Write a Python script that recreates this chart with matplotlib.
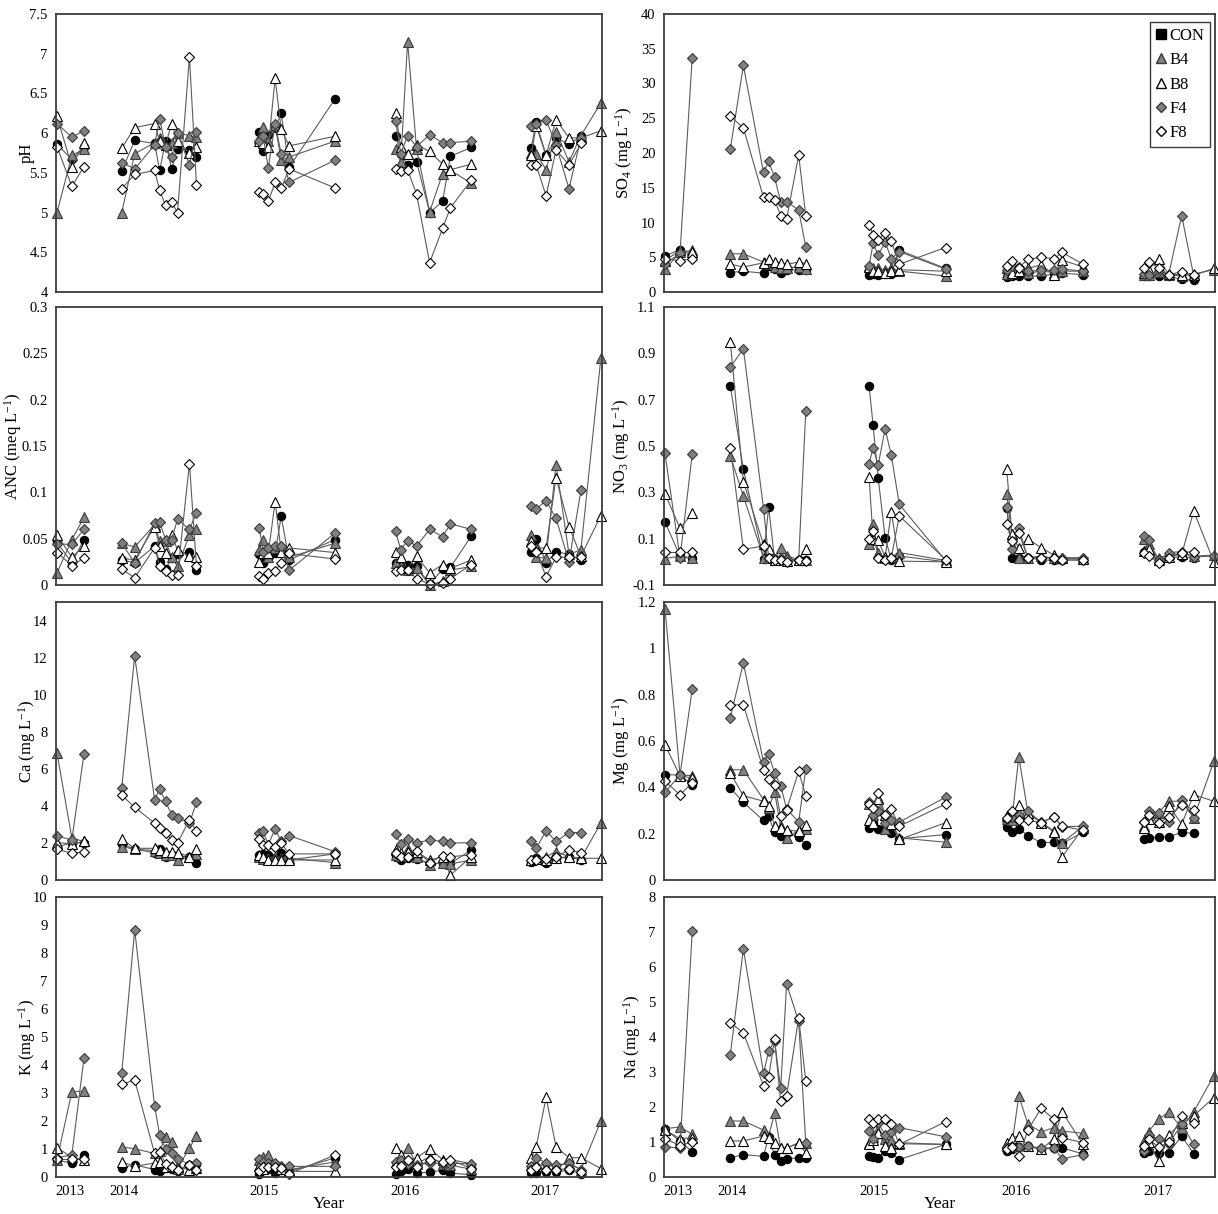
import numpy as np
import matplotlib
matplotlib.use("Agg")
import matplotlib.pyplot as plt
from matplotlib.lines import Line2D
from matplotlib.ticker import FuncFormatter

plt.rcParams["font.family"] = "Liberation Serif"
plt.rcParams["mathtext.fontset"] = "custom"
plt.rcParams["mathtext.rm"] = "Liberation Serif"
plt.rcParams["mathtext.it"] = "Liberation Serif:italic"

# sampling dates (decimal year) for each field season
d2013 = [2013.525, 2013.631, 2013.717]
d2014 = [2013.986, 2014.078, 2014.220, 2014.256, 2014.298, 2014.341, 2014.383, 2014.468, 2014.518]
d2015 = [2014.965, 2014.993, 2015.029, 2015.078, 2015.121, 2015.178, 2015.504]
d2016 = [2015.936, 2015.972, 2016.021, 2016.085, 2016.178, 2016.270, 2016.326, 2016.475]
d2017 = [2016.901, 2016.936, 2017.007, 2017.078, 2017.170, 2017.255, 2017.397]
seasons = [d2013, d2014, d2015, d2016, d2017]

year_labels = ["2013", "2014", "2015", "2016", "2017"]
year_pos = [2013.617, 2014.0, 2015.0, 2016.0, 2017.0]

treatments = ["CON", "B4", "B8", "F4", "F8"]
nan = np.nan

ph = {
    "CON": [[5.86, 5.67, 5.82], [5.52, 5.91, 5.87, 5.53, 5.90, 5.55, 5.80, 5.79, 5.70],
            [6.01, 5.77, 5.98, 6.06, 6.25, 5.57, 6.43], [5.96, 5.74, 5.60, 5.64, 5.00, 5.14, 5.71, 5.82],
            [5.81, 6.14, 5.72, 5.94, 5.86, 5.96, nan]],
    "B4": [[5.00, 5.72, 5.80], [5.00, 5.74, 5.88, 5.94, 5.85, 5.88, 6.00, 5.97, 5.95],
           [5.94, 6.08, 5.90, 6.10, 5.66, 5.70, 5.90], [5.80, 5.64, 7.15, 5.80, 5.01, 5.49, 5.53, 5.37],
           [5.75, 5.74, 5.54, 6.02, 5.64, 5.97, 6.38]],
    "B8": [[6.21, 5.58, 5.88], [5.81, 6.07, 6.12, 5.90, 5.85, 6.12, 5.90, 5.75, 5.82],
           [5.90, 5.87, 5.82, 6.69, 6.05, 5.84, 5.96], [6.25, 5.83, 5.74, 5.85, 5.77, 5.61, 5.54, 5.61],
           [5.72, 6.09, 5.72, 6.17, 5.94, 5.94, 6.03]],
    "F4": [[6.12, 5.95, 6.03], [5.63, 5.55, 5.85, 6.18, 5.82, 5.70, 6.00, 5.60, 6.02],
           [5.90, 5.96, 5.56, 6.12, 5.74, 5.38, 5.66], [6.15, 5.74, 5.97, 5.83, 5.98, 5.88, 5.88, 5.90],
           [6.09, 6.12, 6.17, 5.85, 5.30, 5.94, nan]],
    "F8": [[5.83, 5.33, 5.58], [5.30, 5.48, 5.53, 5.28, 5.09, 5.13, 5.00, 6.96, 5.35],
           [5.26, 5.23, 5.14, 5.38, 5.31, 5.55, 5.31], [5.55, 5.52, 5.54, 5.23, 4.37, 4.80, 5.06, 5.41],
           [5.60, 5.60, 5.21, 5.79, 5.60, 5.87, nan]],
}

so4 = {
    "CON": [[5.2, 6.1, 5.2], [2.8, 3.0, 2.7, 3.8, 3.3, 2.8, 3.1, 3.2, 3.1],
            [2.5, 2.6, 2.5, 2.6, 2.6, 6.0, 3.4], [2.1, 2.3, 2.3, 2.3, 2.3, 2.6, 2.7, 2.5],
            [2.3, 2.3, 2.3, 2.3, 1.8, 1.7, nan]],
    "B4": [[3.3, 5.7, 6.0], [5.5, 5.5, 4.3, 4.0, 3.6, 3.5, 3.5, 3.6, 3.3],
           [3.8, 3.5, 3.4, 3.2, 3.5, 3.0, 2.3], [2.6, 2.9, 3.2, 2.7, 3.0, 2.8, 3.0, 3.0],
           [2.5, 2.5, 2.9, 2.5, 2.3, 2.6, 3.2]],
    "B8": [[4.5, 6.0, 5.7], [4.0, 3.6, 4.2, 4.8, 4.3, 4.2, 4.0, 4.3, 4.1],
           [3.6, 3.0, 3.0, 2.8, 3.0, 3.2, 3.0], [3.5, 2.8, 3.0, 3.4, 3.9, 2.4, 4.6, 3.6],
           [2.8, 3.2, 4.8, 2.6, 2.5, 2.4, 3.4]],
    "F4": [[4.0, 5.6, 33.7], [20.6, 32.6, 17.2, 18.8, 16.5, 13.0, 13.0, 11.8, 6.5],
           [3.8, 7.0, 5.3, 7.2, 4.8, 5.8, 3.3], [3.2, 3.8, 3.6, 3.0, 3.1, 3.1, 3.3, 3.0],
           [2.6, 2.5, 3.0, 2.5, 11.0, 2.3, nan]],
    "F8": [[4.8, 4.5, 4.8], [25.3, 23.6, 13.6, 13.6, 13.3, 11.0, 10.5, 19.7, 11.0],
           [9.7, 8.2, 7.5, 8.5, 7.3, 4.0, 6.4], [3.8, 4.4, 3.5, 4.7, 5.0, 4.8, 5.7, 4.0],
           [3.5, 4.3, 3.5, 2.5, 2.9, 2.5, nan]],
}

anc = {
    "CON": [[0.046, 0.024, 0.049], [0.027, 0.024, 0.042, 0.025, 0.017, 0.029, 0.033, 0.036, 0.016],
            [0.033, 0.024, 0.029, 0.034, 0.074, 0.027, 0.049], [0.024, 0.020, 0.022, 0.020, 0.001, 0.017, 0.019, 0.053],
            [0.036, 0.050, 0.024, 0.036, 0.033, 0.027, nan]],
    "B4": [[0.013, 0.049, 0.073], [0.045, 0.041, 0.065, 0.048, 0.047, 0.030, 0.020, 0.054, 0.060],
           [0.038, 0.049, 0.030, 0.040, 0.042, 0.030, 0.045], [0.024, 0.020, 0.016, 0.018, 0.000, 0.004, 0.016, 0.020],
           [0.054, 0.030, 0.029, 0.130, 0.033, 0.038, 0.245]],
    "B8": [[0.054, 0.030, 0.042], [0.029, 0.027, 0.063, 0.042, 0.035, 0.054, 0.038, 0.031, 0.030],
           [0.025, 0.034, 0.034, 0.090, 0.036, 0.040, 0.035], [0.036, 0.030, 0.018, 0.031, 0.013, 0.022, 0.018, 0.027],
           [0.047, 0.040, 0.040, 0.116, 0.063, 0.031, 0.075]],
    "F4": [[0.044, 0.044, 0.060], [0.045, 0.024, 0.067, 0.068, 0.049, 0.049, 0.071, 0.060, 0.078],
           [0.062, 0.036, 0.040, 0.042, 0.042, 0.016, 0.056], [0.058, 0.038, 0.048, 0.042, 0.060, 0.052, 0.066, 0.060],
           [0.085, 0.082, 0.091, 0.072, 0.025, 0.102, nan]],
    "F8": [[0.035, 0.021, 0.029], [0.017, 0.008, 0.040, 0.020, 0.015, 0.011, 0.011, 0.131, 0.020],
           [0.010, 0.006, 0.013, 0.015, 0.024, 0.034, 0.028], [0.015, 0.016, 0.016, 0.007, 0.001, 0.002, 0.007, 0.022],
           [0.042, 0.036, 0.009, 0.030, 0.030, 0.030, nan]],
}

no3 = {
    "CON": [[0.172, 0.025, 0.015], [0.759, 0.399, 0.014, 0.237, 0.010, 0.010, 0.010, 0.006, 0.006],
            [0.759, 0.590, 0.363, 0.104, 0.010, 0.025, 0.000], [0.234, 0.018, 0.018, 0.018, 0.009, 0.006, 0.006, 0.010],
            [0.044, 0.032, 0.006, 0.018, 0.021, 0.018, nan]],
    "B4": [[0.014, 0.025, 0.015], [0.457, 0.284, 0.018, 0.018, 0.010, 0.058, 0.025, 0.010, 0.010],
           [0.078, 0.162, 0.040, 0.015, 0.020, 0.040, 0.006], [0.291, 0.119, 0.018, 0.018, 0.025, 0.015, 0.018, 0.015],
           [0.097, 0.078, 0.015, 0.032, 0.035, 0.025, 0.029]],
    "B8": [[0.294, 0.145, 0.209], [0.950, 0.346, 0.075, 0.054, 0.010, 0.015, 0.003, 0.010, 0.054],
           [0.366, 0.097, 0.093, 0.020, 0.216, 0.003, 0.000], [0.399, 0.119, 0.058, 0.100, 0.061, 0.029, 0.018, 0.014],
           [0.047, 0.054, 0.006, 0.021, 0.032, 0.219, 0.000]],
    "F4": [[0.468, 0.018, 0.464], [0.840, 0.920, 0.230, 0.018, 0.014, 0.018, 0.014, 0.006, 0.651],
           [0.424, 0.493, 0.418, 0.575, 0.461, 0.248, 0.006], [0.237, 0.054, 0.147, 0.015, 0.018, 0.018, 0.015, 0.018],
           [0.111, 0.093, 0.006, 0.040, 0.044, 0.021, 0.025]],
    "F8": [[0.044, 0.044, 0.044], [0.493, 0.054, 0.068, 0.018, 0.010, 0.010, 0.000, 0.006, 0.003],
           [0.097, 0.133, 0.018, 0.006, 0.018, 0.198, 0.010], [0.165, 0.090, 0.126, 0.018, 0.018, 0.015, 0.010, 0.006],
           [0.040, 0.025, -0.004, 0.018, 0.040, 0.044, nan]],
}

ca = {
    "CON": [[1.77, 2.02, 2.02], [1.95, 1.66, 1.48, 1.66, 1.23, 1.35, 1.26, 1.26, 0.94],
            [1.35, 1.41, 1.35, 1.17, 1.44, 1.08, 1.41], [1.26, 1.08, 1.21, 1.12, 0.90, 0.90, 0.90, 1.62],
            [0.99, 1.17, 0.90, 1.17, 1.23, 1.08, nan]],
    "B4": [[6.86, 2.26, 2.08], [1.80, 1.66, 1.59, 1.44, 1.35, 1.35, 1.08, 1.23, 1.41],
           [1.26, 1.12, 1.17, 1.26, 1.20, 1.17, 0.94], [1.35, 1.30, 1.66, 1.23, 0.81, 0.94, 0.87, 1.08],
           [1.08, 1.17, 1.26, 1.53, 1.26, 1.17, 3.07]],
    "B8": [[2.02, 1.95, 2.08], [2.20, 1.71, 1.71, 1.60, 1.53, 1.53, 1.48, 1.26, 1.66],
           [1.35, 1.26, 1.08, 1.08, 1.10, 1.08, 1.08], [1.62, 1.44, 1.50, 1.53, 1.08, 1.26, 0.27, 1.26],
           [1.08, 1.12, 1.08, 1.17, 1.26, 1.17, 1.17]],
    "F4": [[2.38, 2.17, 6.80], [4.96, 12.10, 4.33, 4.91, 4.24, 3.52, 3.34, 3.07, 4.19],
           [2.53, 2.62, 1.90, 2.76, 2.08, 2.40, 1.53], [2.49, 1.95, 2.20, 1.99, 2.17, 2.08, 1.99, 2.02],
           [2.13, 1.71, 2.65, 2.08, 2.56, 2.56, nan]],
    "F8": [[1.66, 1.44, 1.53], [4.58, 3.92, 3.07, 2.83, 2.56, 2.17, 1.99, 3.25, 2.65],
           [2.20, 1.90, 1.90, 1.77, 1.99, 1.41, 1.41], [1.44, 1.23, 1.23, 1.59, 0.94, 1.30, 1.26, 1.35],
           [1.08, 1.08, 1.12, 1.26, 1.62, 1.48, nan]],
}

mg = {
    "CON": [[0.454, 0.454, 0.410], [0.397, 0.335, 0.257, 0.275, 0.206, 0.189, 0.204, 0.185, 0.153],
            [0.225, 0.247, 0.218, 0.225, 0.201, 0.178, 0.196], [0.228, 0.206, 0.221, 0.192, 0.161, 0.163, 0.158, 0.206],
            [0.178, 0.182, 0.186, 0.186, 0.206, 0.201, nan]],
    "B4": [[1.171, 0.454, 0.450], [0.476, 0.476, 0.347, 0.311, 0.379, 0.232, 0.182, 0.215, 0.218],
           [0.330, 0.280, 0.354, 0.220, 0.250, 0.182, 0.163], [0.264, 0.260, 0.533, 0.290, 0.250, 0.211, 0.161, 0.232],
           [0.232, 0.290, 0.290, 0.340, 0.340, 0.268, 0.512]],
    "B8": [[0.583, 0.450, 0.440], [0.461, 0.364, 0.340, 0.320, 0.232, 0.225, 0.215, 0.211, 0.239],
           [0.261, 0.245, 0.350, 0.282, 0.240, 0.175, 0.247], [0.278, 0.278, 0.325, 0.290, 0.247, 0.206, 0.099, 0.225],
           [0.225, 0.264, 0.250, 0.320, 0.242, 0.368, 0.340]],
    "F4": [[0.378, 0.454, 0.823], [0.701, 0.938, 0.508, 0.545, 0.461, 0.407, 0.307, 0.250, 0.479],
           [0.335, 0.282, 0.300, 0.247, 0.260, 0.250, 0.357], [0.264, 0.270, 0.280, 0.297, 0.250, 0.272, 0.230, 0.232],
           [0.250, 0.297, 0.290, 0.250, 0.344, 0.268, nan]],
    "F8": [[0.426, 0.368, 0.419], [0.756, 0.756, 0.476, 0.436, 0.411, 0.275, 0.304, 0.469, 0.364],
           [0.330, 0.310, 0.376, 0.282, 0.307, 0.232, 0.328], [0.268, 0.297, 0.261, 0.258, 0.247, 0.272, 0.232, 0.215],
           [0.250, 0.282, 0.247, 0.270, 0.325, 0.304, nan]],
}

k = {
    "CON": [[0.60, 0.50, 0.80], [0.32, 0.44, 0.26, 0.20, 0.33, 0.28, 0.20, 0.42, 0.48],
            [0.10, 0.25, 0.30, 0.14, 0.25, 0.20, 0.68], [0.10, 0.20, 0.30, 0.14, 0.18, 0.24, 0.14, 0.08],
            [0.16, 0.16, 0.18, 0.18, 0.24, 0.12, nan]],
    "B4": [[0.62, 3.04, 3.07], [1.07, 1.01, 0.84, 0.93, 1.43, 1.25, 0.30, 1.04, 1.46],
           [0.62, 0.72, 0.80, 0.42, 0.36, 0.26, 0.54], [0.54, 0.72, 1.04, 0.48, 0.72, 0.48, 0.42, 0.28],
           [0.42, 0.48, 0.38, 0.42, 0.48, 0.26, 2.00]],
    "B8": [[1.05, 0.70, 0.60], [0.54, 0.38, 0.50, 0.54, 0.36, 0.38, 0.36, 0.26, 0.33],
           [0.38, 0.30, 0.42, 0.42, 0.28, 0.20, 0.20], [1.04, 0.78, 0.60, 0.68, 1.01, 0.62, 0.62, 0.48],
           [0.69, 1.07, 2.84, 1.07, 0.69, 0.69, 0.30]],
    "F4": [[0.68, 0.80, 4.24], [3.72, 8.83, 2.54, 1.49, 1.01, 0.84, 0.66, 0.44, 0.50],
           [0.66, 0.55, 0.50, 0.50, 0.38, 0.38, 0.38], [0.54, 0.60, 0.48, 0.42, 0.50, 0.48, 0.48, 0.48],
           [0.38, 0.68, 0.50, 0.42, 0.50, 0.26, nan]],
    "F8": [[0.66, 0.66, 0.66], [3.31, 3.46, 0.84, 0.90, 0.48, 0.35, 0.26, 0.44, 0.24],
           [0.20, 0.36, 0.36, 0.36, 0.33, 0.12, 0.78], [0.36, 0.38, 0.60, 0.36, 0.60, 0.54, 0.62, 0.30],
           [0.26, 0.36, 0.26, 0.26, 0.30, 0.18, nan]],
}

na = {
    "CON": [[1.36, 1.03, 0.72], [0.55, 0.64, 0.59, 1.15, 0.62, 0.47, 0.52, 0.55, 0.55],
            [0.59, 0.58, 0.55, 0.74, 0.69, 0.50, 0.93], [0.74, 0.79, 0.86, 0.88, 0.79, 0.83, 0.83, 0.66],
            [0.69, 0.74, 0.69, 0.69, 1.17, 0.66, nan]],
    "B4": [[1.38, 1.43, 1.22], [1.60, 1.60, 1.34, 1.17, 1.82, 0.83, 0.83, 0.98, 0.98],
           [0.98, 1.15, 1.30, 1.10, 1.05, 0.95, 0.93], [0.88, 0.92, 2.32, 1.51, 1.29, 1.41, 1.31, 1.25],
           [1.03, 1.30, 1.65, 1.86, 1.40, 1.86, 2.90]],
    "B8": [[1.34, 1.10, 1.12], [1.03, 1.03, 1.17, 1.12, 0.98, 0.83, 0.83, 0.96, 0.69],
           [0.93, 1.05, 1.25, 0.88, 0.83, 0.98, 0.93], [0.98, 1.12, 1.17, 0.88, 0.79, 1.09, 1.86, 0.93],
           [0.88, 1.00, 0.45, 1.20, 1.55, 1.75, 2.27]],
    "F4": [[0.86, 0.83, 7.02], [3.50, 6.52, 2.96, 3.59, 3.90, 2.53, 5.51, 4.45, 0.98],
           [1.31, 1.10, 1.55, 1.20, 1.30, 1.41, 1.15], [0.85, 0.88, 0.85, 0.88, 0.83, 0.83, 0.52, 0.64],
           [0.74, 1.19, 1.09, 0.95, 1.51, 0.93, nan]],
    "F8": [[1.09, 0.90, 1.00], [4.41, 4.12, 2.61, 2.85, 3.93, 2.16, 2.32, 4.55, 2.75],
           [1.65, 1.55, 1.65, 1.67, 1.51, 0.93, 1.58], [0.80, 0.85, 0.59, 1.34, 1.96, 1.65, 1.12, 0.98],
           [0.90, 1.10, 0.85, 1.00, 1.75, 1.55, nan]],
}

line_color = "#5c5c5c"
styles = {
    "CON": dict(marker="o", mfc="black", mec="black", ms=6),
    "B4": dict(marker="^", mfc="#808080", mec="#3a3a3a", ms=7),
    "B8": dict(marker="^", mfc="white", mec="black", ms=7),
    "F4": dict(marker="D", mfc="#808080", mec="#3a3a3a", ms=4.8),
    "F8": dict(marker="D", mfc="white", mec="black", ms=4.8),
}

# (data, ylim, tick step, y label, column, row, label x in pixels)
panels = [
    (ph, (4, 7.5), 0.5, "pH", 0, 0, 27),
    (so4, (0, 40), 5, "SO$_4$ (mg L$^{-1}$)", 1, 0, 624),
    (anc, (0, 0.3), 0.05, "ANC (meq L$^{-1}$)", 0, 1, 13),
    (no3, (-0.1, 1.1), 0.2, "NO$_3$ (mg L$^{-1}$)", 1, 1, 621),
    (ca, (0, 15), 2, "Ca (mg L$^{-1}$)", 0, 2, 27),
    (mg, (0, 1.2), 0.2, "Mg (mg L$^{-1}$)", 1, 2, 621),
    (k, (0, 10), 1, "K (mg L$^{-1}$)", 0, 3, 27),
    (na, (0, 8), 1, "Na (mg L$^{-1}$)", 1, 3, 632),
]

W, H = 1218, 1214
col_x = [(56, 546), (664, 551)]
row_y = [(14, 292), (307, 585), (602, 880), (897, 1177)]

fig = plt.figure(figsize=(W / 100, H / 100), dpi=100)
fmt = FuncFormatter(lambda v, p: f"{round(v, 6):g}")

for data, ylim, step, ylabel, col, row, lab_x in panels:
    x0, w = col_x[col]
    top, bottom = row_y[row]
    ax = fig.add_axes([x0 / W, 1 - bottom / H, w / W, (bottom - top) / H])

    for name in treatments:
        for dates, vals in zip(seasons, data[name]):
            x = np.array(dates)
            y = np.array(vals, dtype=float)
            ok = ~np.isnan(y)
            ax.plot(x[ok], y[ok], color=line_color, lw=0.8, mew=0.8,
                    clip_on=False, **styles[name])

    ax.set_xlim(2013.518, 2017.405)
    top_lim = 14 if ylabel.startswith("Ca") else ylim[1]
    ax.set_ylim(ylim[0], ylim[1])
    ax.set_yticks(np.arange(ylim[0], top_lim + step / 2, step))
    ax.yaxis.set_major_formatter(fmt)
    ax.set_xticks(year_pos)
    if row == 3:
        ax.set_xticklabels(year_labels)
        ax.set_xlabel("Year", fontsize=12.5)
        ax.xaxis.set_label_coords(0.5, -(1196 - bottom) / (bottom - top))
    else:
        ax.set_xticklabels([])
    ax.tick_params(length=0, labelsize=10.5, pad=6)
    ax.set_ylabel(ylabel, fontsize=12, va="center")
    ax.yaxis.set_label_coords((lab_x - x0) / w, 0.5)
    for sp in ax.spines.values():
        sp.set_color("#3c3c3c")
        sp.set_linewidth(1.3)

    if data is so4:
        handles = [
            Line2D([], [], ls="none", marker="s", mfc="black", mec="black", ms=6.5),
            Line2D([], [], ls="none", **{**styles["B4"], "ms": 7.5}),
            Line2D([], [], ls="none", **{**styles["B8"], "ms": 7.5}),
            Line2D([], [], ls="none", **{**styles["F4"], "ms": 5.5}),
            Line2D([], [], ls="none", **{**styles["F8"], "ms": 5.5}),
        ]
        leg = ax.legend(handles, treatments, loc="upper right",
                        bbox_to_anchor=(0.991, 0.971), borderaxespad=0,
                        fontsize=12, fancybox=False, framealpha=1,
                        edgecolor="#3c3c3c", handlelength=0.6,
                        handletextpad=0.2, labelspacing=0.5, borderpad=0.35)
        leg.get_frame().set_linewidth(1.0)

fig.savefig("out.png", dpi=100)
